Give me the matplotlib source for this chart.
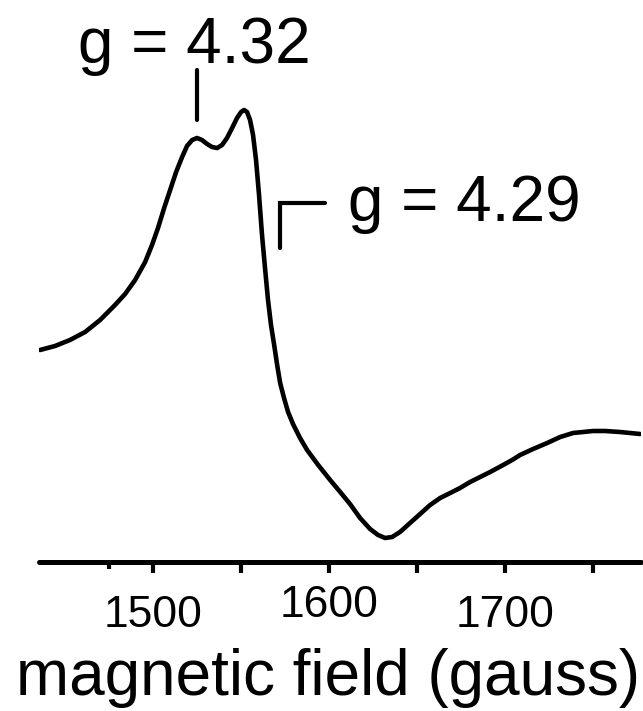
import matplotlib
matplotlib.use("Agg")
import matplotlib.pyplot as plt
import matplotlib.transforms as mtransforms

plt.rcParams['font.family'] = ['Liberation Sans', 'DejaVu Sans']

# EPR spectrum (field in gauss, intensity in arbitrary units)
field = [1435.8, 1444.3, 1452.8, 1461.4, 1469.9, 1478.4, 1484.1, 1489.8, 1495.5, 1499.4,
         1502.8, 1506.3, 1509.7, 1513.1, 1516.5, 1519.3, 1522.2, 1525.0, 1527.8, 1530.7,
         1533.5, 1536.4, 1539.2, 1542.0, 1544.9, 1547.7, 1550.0, 1551.7, 1553.4, 1555.1,
         1556.8, 1558.5, 1560.2, 1561.9, 1563.6, 1565.3, 1567.0, 1568.8, 1570.5, 1572.2,
         1574.4, 1576.7, 1579.5, 1583.5, 1587.5, 1593.8, 1600.6, 1606.3, 1611.9, 1617.6,
         1623.3, 1627.8, 1631.8, 1635.8, 1640.3, 1646.0, 1651.7, 1657.4, 1663.1, 1668.8,
         1674.4, 1680.1, 1685.8, 1691.5, 1698.9, 1704.0, 1708.5, 1715.9, 1723.9, 1731.3,
         1738.6, 1744.3, 1750.0, 1756.8, 1765.3, 1776.7]
signal = [212, 216, 222, 230, 242, 257, 268, 282, 300, 317,
          334, 354, 372, 390, 405, 416, 422, 424, 422, 418,
          415, 414, 417, 424, 434, 444, 450, 452, 450, 442,
          427, 402, 367, 327, 294, 262, 237, 217, 197, 179,
          164, 150, 138, 124, 112, 97, 82, 70, 58, 44,
          33, 27, 24, 25, 30, 39, 48, 57, 64, 69,
          74, 80, 85, 90, 97, 102, 107, 113, 119, 125,
          129, 130, 131, 131, 130, 128]

tick_values = [1500, 1550, 1600, 1650, 1700, 1750]
tick_labels = {1500: "1500", 1600: "1600", 1700: "1700"}
label_raise = {1500: 0, 1600: 10, 1700: 0}   # 1600 sits a little higher
minor_ticks = [1475]

g_labels = ["g = 4.32", "g = 4.29"]

dpi = 100
fig = plt.figure(figsize=(6.43, 7.11), dpi=dpi)
W, H = 643, 711
ax = fig.add_axes([39 / W, 1 - 562 / H, 602 / W, 562 / H])

ax.plot(field, signal, color='black', lw=3.3, solid_joinstyle='round',
        solid_capstyle='round')

ax.set_xlim(1435.2, 1777.2)
ax.set_ylim(0, 562)

for side in ['left', 'right', 'top']:
    ax.spines[side].set_visible(False)
ax.spines['bottom'].set_linewidth(3.6)
ax.spines['bottom'].set_capstyle('round')
ax.set_yticks([])

ax.set_xticks(tick_values)
ax.set_xticklabels([])
ax.set_xticks(minor_ticks, minor=True)
ax.tick_params(axis='x', which='major', direction='out', length=8, width=3)
ax.tick_params(axis='x', which='minor', direction='out', length=5, width=3)

# tick labels, drawn by hand so 1600 can sit higher
trans = ax.get_xaxis_transform()
for v, lab in tick_labels.items():
    off = mtransforms.ScaledTranslation(0, (-65 + label_raise[v]) / dpi,
                                        fig.dpi_scale_trans)
    ax.text(v, 0, lab, transform=trans + off, ha='center', va='baseline',
            fontsize=32, clip_on=False)

fig.text(328 / W, 1 - 695 / H, "magnetic field (gauss)", ha='center',
         va='baseline', fontsize=46)

# g markers
ax.text(1457.4, 562 - 63, g_labels[0], ha='left', va='baseline', fontsize=46)
ax.plot([1525, 1525], [492, 442], color='black', lw=3, solid_capstyle='round')

ax.text(1610.5, 562 - 221, g_labels[1], ha='left', va='baseline', fontsize=46)
ax.plot([1572.2, 1572.2, 1597.7], [314, 359, 359], color='black', lw=3,
        solid_capstyle='round', solid_joinstyle='miter')

fig.savefig("out.png", dpi=dpi)
